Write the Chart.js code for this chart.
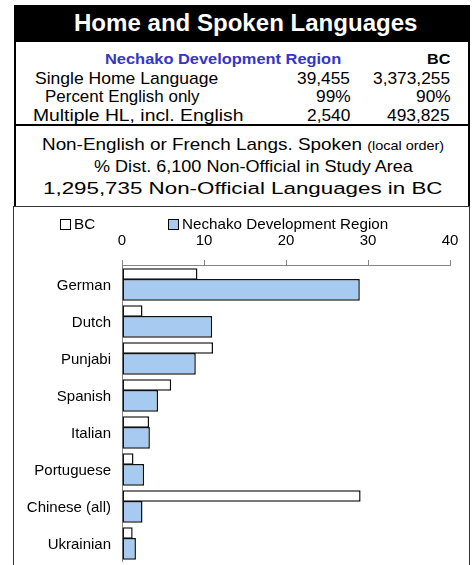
<!DOCTYPE html>
<html><head><meta charset="utf-8">
<script src="https://cdn.jsdelivr.net/npm/chart.js@4/dist/chart.umd.min.js"></script>
<style>
html,body{margin:0;padding:0;background:#fff;}
body{width:476px;height:565px;overflow:hidden;position:relative;font-family:Arial,"Liberation Sans",sans-serif;}
.t{position:absolute;white-space:nowrap;line-height:1;transform-origin:0 0;}
#titlebar{position:absolute;left:14px;top:5px;width:456px;height:37px;background:#000;}
#upper{position:absolute;left:14px;top:42px;width:456px;height:165px;box-sizing:border-box;border-left:2px solid #000;border-right:2px solid #000;}
#sep{position:absolute;left:14px;top:124px;width:456px;height:2px;background:#000;}
#chartbox{position:absolute;left:13px;top:206px;width:457px;height:400px;box-sizing:border-box;border:1.5px solid #333;}
#chart{position:absolute;left:15px;top:208px;}
.lbox{position:absolute;box-sizing:border-box;border:1px solid #000;}
</style></head>
<body>
<div id="titlebar"></div>
<div id="upper"></div>
<div id="sep"></div>
<div id="chartbox"></div>
<canvas id="chart" width="452" height="357"></canvas>
<script>
// ---- data ----
const chartTitle = 'Home and Spoken Languages';
const regionName = 'Nechako Development Region';
const provinceName = 'BC';
const statLabels = ['Single Home Language', 'Percent English only', 'Multiple HL, incl. English'];
const regionStats = ['39,455', '99%', '2,540'];
const provinceStats = ['3,373,255', '90%', '493,825'];
const subtitleLines = ['Non-English or French Langs. Spoken ', '% Dist. 6,100 Non-Official in Study Area', '1,295,735 Non-Official Languages in BC'];
const subtitleNote = '(local order)';
const categories = ['German', 'Dutch', 'Punjabi', 'Spanish', 'Italian', 'Portuguese', 'Chinese (all)', 'Ukrainian'];
const bcValues = [9.2, 2.5, 11.1, 6.0, 3.3, 1.4, 29.1, 1.3];
const nechakoValues = [29.0, 11.0, 9.0, 4.4, 3.4, 2.7, 2.5, 1.7];
const xTicks = [0, 10, 20, 30, 40];
const seriesNames = ['BC', 'Nechako Development Region'];

// ---- text layout helper ----
const FONT = 'Arial, "Liberation Sans", sans-serif';
function place(html, x0, x1, base, size, opts) {
  opts = opts || {};
  const d = document.createElement('div');
  d.className = 't';
  d.innerHTML = html;
  d.style.fontSize = size + 'px';
  d.style.fontFamily = FONT;
  if (opts.bold) d.style.fontWeight = 'bold';
  d.style.color = opts.color || '#000';
  d.style.top = (base - 0.8465 * size) + 'px';
  d.style.left = (x0 == null ? 0 : x0) + 'px';
  document.body.appendChild(d);
  const w = d.offsetWidth;
  if (opts.scale) {
    d.style.transform = 'scaleX(' + opts.scale + ')';
    if (x0 == null) d.style.left = (x1 - w * opts.scale) + 'px';
  } else if (x0 != null && x1 != null && w > 0) {
    d.style.transform = 'scaleX(' + ((x1 - x0) / w) + ')';
  }
  return d;
}

place(chartTitle, 74, 417, 31.7, 23, {bold: true, color: '#fff'});
place(regionName, 105, 341.7, 64.3, 15.4, {bold: true, color: '#3535c8'});
place(provinceName, null, 450, 64.3, 15.4, {bold: true, scale: 1.05});
const rowBase = [83.3, 101.7, 120.7];
const rowX = [[35, 218], [45, 200], [33.3, 243.3]];
statLabels.forEach((s, i) => {
  place(s, rowX[i][0], rowX[i][1], rowBase[i], 16.2);
  place(regionStats[i], null, 350.7, rowBase[i], 16.2, {scale: 1.07});
  place(provinceStats[i], null, 450, rowBase[i], 16.2, {scale: 1.07});
});
place(subtitleLines[0] + '<span style="font-size:13px">' + subtitleNote + '</span>', 41.7, 443.5, 150.7, 17);
place(subtitleLines[1], 94, 412.7, 172.7, 17);
place(subtitleLines[2], 42.7, 441.7, 195, 17.2);

// ---- chart ----
const ctx = document.getElementById('chart');
const chart = new Chart(ctx, {
  type: 'bar',
  data: {
    labels: categories,
    datasets: [
      {label: seriesNames[0], data: bcValues, backgroundColor: '#ffffff', borderColor: '#111',
       borderWidth: 1.5, borderSkipped: false, categoryPercentage: 1.027, barPercentage: 0.6},
      {label: seriesNames[1], data: nechakoValues, backgroundColor: '#a6caf0', borderColor: '#111',
       borderWidth: 1.5, borderSkipped: false, categoryPercentage: 0.6865, barPercentage: 1.709}
    ]
  },
  options: {
    indexAxis: 'y',
    responsive: false,
    animation: false,
    devicePixelRatio: 1,
    layout: {padding: {top: 0, left: 0, right: 17, bottom: 4}},
    plugins: {legend: {display: false}, tooltip: {enabled: false}, title: {display: false}},
    scales: {
      x: {
        position: 'top', min: 0, max: 40,
        afterBuildTicks: a => { a.ticks = xTicks.map(v => ({value: v})); },
        grid: {drawOnChartArea: false, drawTicks: true, tickLength: 5, color: '#868686', lineWidth: 1},
        border: {display: true, color: '#868686', width: 1},
        ticks: {font: {family: FONT, size: 15}, color: '#000', padding: 10, maxRotation: 0},
        afterFit: s => { s.height = 57; s.paddingLeft = 0; s.paddingRight = 0; }
      },
      y: {
        grid: {display: false, drawTicks: false},
        border: {display: true, color: '#868686', width: 1},
        ticks: {font: {family: FONT, size: 15}, color: '#000', padding: 11, labelOffset: 2},
        afterFit: s => { s.width = 107; s.paddingTop = 0; s.paddingBottom = 0; }
      }
    }
  }
});

// ---- HTML legend built from the datasets ----
const legendPos = [[60, 74, 95], [168.3, 181.7, 388.3]];
chart.data.datasets.forEach((ds, i) => {
  const b = document.createElement('div');
  b.className = 'lbox';
  b.style.left = legendPos[i][0] + 'px';
  b.style.top = '219px';
  b.style.width = '11px';
  b.style.height = '10.5px';
  b.style.background = ds.backgroundColor;
  document.body.appendChild(b);
  place(ds.label, legendPos[i][1], legendPos[i][2], 229.3, 14.5);
});
</script>
</body></html>
